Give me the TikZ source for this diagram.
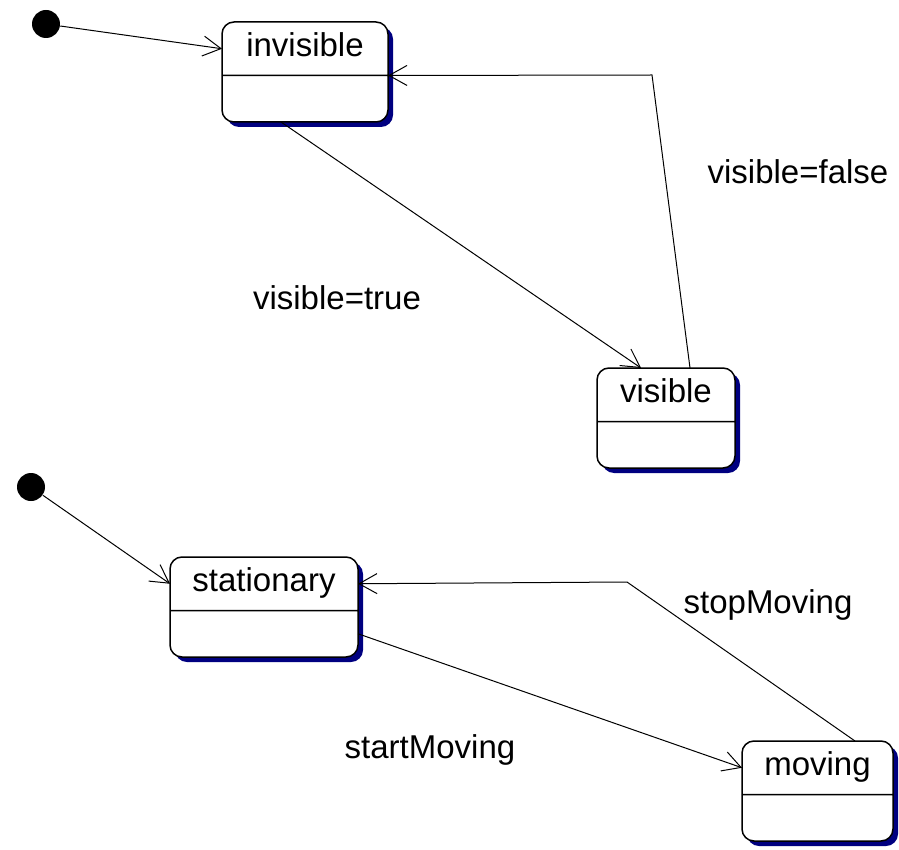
\documentclass[tikz,border=0pt]{standalone}
\usepackage{fontspec}
\setmainfont{Liberation Sans}
\usetikzlibrary{positioning, arrows.meta, shapes.multipart, shadows}
\definecolor{shadowblue}{RGB}{0,0,128}
\tikzset{
state/.style={
  draw,
  line width=0.75pt,
  rectangle split,
  rectangle split parts=2,
  rounded corners=6pt,
  inner xsep=4pt, inner ysep=3.25pt,
  outer sep=0pt,
  text height=13.5pt, text depth=6pt,
  rectangle split empty part height=16pt,
  font=\fontsize{16.5}{20}\selectfont,
  fill=white,
  drop shadow={shadow xshift=2.5pt, shadow yshift=-2.5pt, fill=shadowblue, opacity=1}
  },
initial/.style={circle, fill=black, minimum size=14pt, inner sep=0pt},
trans/.style={font=\fontsize{16.5}{20}\selectfont},
line/.style={->, >={Straight Barb[length=9pt, width=10pt]}, line width=0.5pt}
}
\begin{document}
\begin{tikzpicture}[x=0.5pt, y=-0.5pt]
\useasboundingbox (0,0) rectangle (899,850);

% visibility
\node[initial]	(init1)		at (46,24)									{};
\node[state, minimum width=83pt, anchor=north west]	(invisible)	at (222,22)	{invisible \nodepart{two}};
\node[state, minimum width=69pt]	(visible)	[below right=123pt and 104.5pt of invisible]	{visible \nodepart{two}};
\coordinate	(vbend)	at (652,75);
\node[trans]	(vfalse)	at (798,172)		{visible=false};
\node[trans]	(vtrue)		at (337,298)		{visible=true};

% movement
\node[initial]	(init2)		at (31,487)									{};
\node[state, minimum width=94pt, anchor=north west]	(stationary)	at (170,557)	{stationary \nodepart{two}};
\node[state, minimum width=75.5pt]	(moving)	[below right=42pt and 192pt of stationary]	{moving \nodepart{two}};
\coordinate	(mbend)	at (627,582);
\node[trans]	(mstop)		at (768,605)		{stopMoving};
\node[trans]	(mstart)	at (430,750)		{startMoving};

\draw[line] (init1) -- (invisible.one west);
\draw[line] ([xshift=-12pt]invisible.south) -- ([xshift=-12.5pt]visible.north);
\draw[line] ([xshift=12pt]visible.north) -- (vbend) -- (invisible.text split east);
\draw[line] (init2) -- (stationary.one west);
\draw[line] (stationary.two east) -- (moving.one west);
\draw[line] ([xshift=18.75pt]moving.north) -- (mbend) -- (stationary.one east);
\end{tikzpicture}
\end{document}
